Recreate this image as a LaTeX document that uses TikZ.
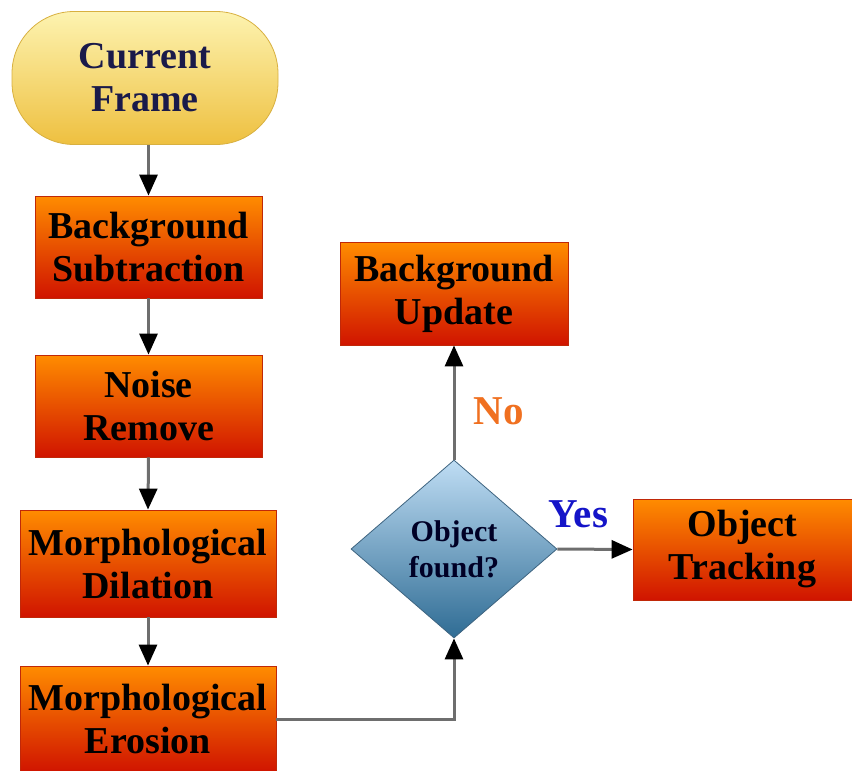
\documentclass[tikz,border=0pt]{standalone}
\usepackage{fontspec}
\setmainfont{Liberation Serif}
\usetikzlibrary{shapes.geometric,arrows.meta}
\definecolor{boxtop}{HTML}{FF8C00}
\definecolor{boxbot}{HTML}{D01400}
\definecolor{boxline}{HTML}{C02808}
\definecolor{cftop}{HTML}{FDF3B0}
\definecolor{cfbot}{HTML}{EEC040}
\definecolor{cfline}{HTML}{D8B040}
\definecolor{cftext}{HTML}{1A1A4A}
\definecolor{dmtop}{HTML}{BFDDF4}
\definecolor{dmbot}{HTML}{2F6C94}
\definecolor{dmline}{HTML}{3E6480}
\definecolor{linegray}{HTML}{6E6E6E}
\definecolor{nocol}{HTML}{F07020}
\definecolor{yescol}{HTML}{1414C8}
\begin{document}
\begin{tikzpicture}[x=1pt,y=-1pt,
  bigfont/.style={font=\fontsize{38}{43}\selectfont\bfseries},
  procbox/.style={rectangle, draw=boxline, line width=0.8pt, top color=boxtop, bottom color=boxbot,
     inner sep=0pt, align=center, bigfont, text=black},
  startbox/.style={rectangle, rounded corners=62pt, draw=cfline, line width=0.8pt, top color=cftop, bottom color=cfbot,
     minimum width=266pt, minimum height=133pt, inner sep=0pt, align=center, bigfont, text=cftext},
  decbox/.style={diamond, draw=dmline, line width=0.8pt, top color=dmtop, bottom color=dmbot,
     minimum width=206pt, minimum height=178pt, inner sep=0pt, align=center,
     font=\fontsize{30}{36}\selectfont\bfseries, text=black!85!blue},
  conn/.style={draw=linegray, line width=3pt, -{Triangle[length=21pt,width=18pt,color=black]}},
  lbl/.style={font=\fontsize{41}{44}\selectfont\bfseries, inner sep=0pt}
]
\useasboundingbox (0,0) rectangle (852,771);

\node[startbox] (cf) at (145,78) {Current\\Frame};
\node[procbox, minimum width=227pt, minimum height=102pt] (bs) at (148.5,247) {Background\\Subtraction};
\node[procbox, minimum width=227pt, minimum height=102pt] (nr) at (148.5,406) {Noise\\Remove};
\node[procbox, minimum width=256pt, minimum height=107pt] (md) at (148,563.5) {Morphological\\Dilation};
\node[procbox, minimum width=256pt, minimum height=106pt] (me) at (148,719) {Morphological\\Erosion};
\node[procbox, minimum width=228pt, minimum height=103pt] (bu) at (454,293.5) {Background\\Update};
\node[decbox] (of) at (454,549) {Object\\found?};
\node[procbox, minimum width=219pt, minimum height=101pt] (ot) at (742.5,549.5) {Object\\Tracking};

\draw[conn] (cf.south -| bs.north) -- (bs.north);
\draw[conn] (bs.south) -- (nr.north);
\draw[conn] (nr.south) -- (md.north);
\draw[conn] (md.south) -- (me.north);
\draw[conn] (me.east) -| (of.south);
\draw[conn] (of.north) -- node[lbl, text=nocol, pos=0.42, anchor=west, xshift=18pt] (no) {No} (bu.south);
\draw[conn] (of.east) -- node[lbl, text=yescol, pos=0.28, yshift=35pt] (yes) {Yes} (ot.west);
\end{tikzpicture}
\end{document}
